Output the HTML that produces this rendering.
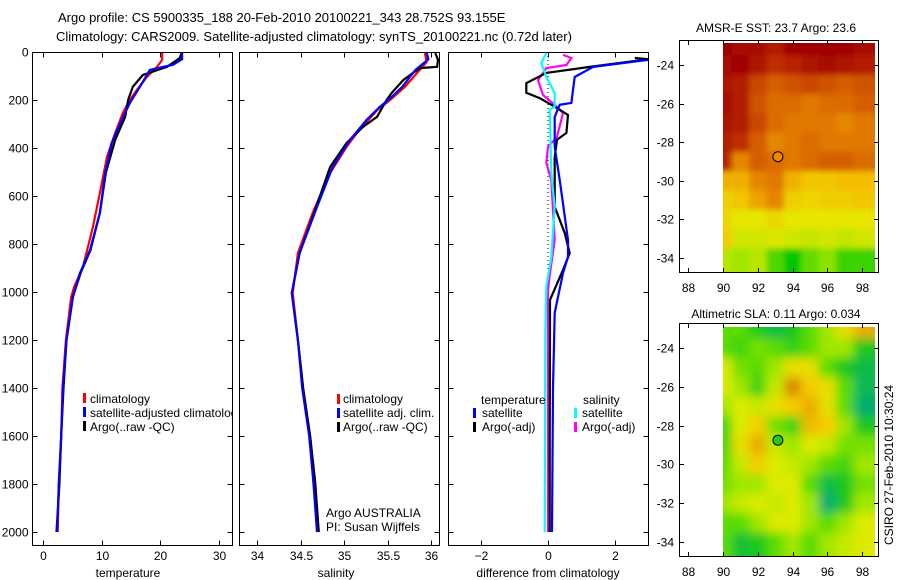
<!DOCTYPE html>
<html><head><meta charset="utf-8"><style>
html,body{margin:0;padding:0;background:#fff;}
svg{display:block;font-family:"Liberation Sans",sans-serif;}
text{font-size:12px;fill:#000;}
</style></head><body>
<svg id="chart" width="900" height="580" viewBox="0 0 900 580">
<defs>
<clipPath id="c1"><rect x="32" y="52" width="200" height="493"/></clipPath>
<clipPath id="c2"><rect x="239" y="52" width="200" height="493"/></clipPath>
<clipPath id="c3"><rect x="448" y="52" width="200" height="493"/></clipPath>
<clipPath id="cm1"><rect x="723" y="43" width="152" height="229"/></clipPath>
<clipPath id="cm2"><rect x="723" y="327" width="152" height="229"/></clipPath>
<filter id="b1" filterUnits="userSpaceOnUse" x="723" y="43" width="152" height="229"><feGaussianBlur stdDeviation="3" edgeMode="duplicate"/></filter>
<filter id="b2" filterUnits="userSpaceOnUse" x="723" y="327" width="152" height="229"><feGaussianBlur stdDeviation="5" edgeMode="duplicate"/></filter>
</defs>
<text x="58" y="22" style="font-size:13px">Argo profile: CS 5900335_188 20-Feb-2010 20100221_343 28.752S 93.155E</text>
<text x="56" y="41" style="font-size:13px">Climatology: CARS2009. Satellite-adjusted climatology: synTS_20100221.nc (0.72d later)</text>
<g id="g"></g>
</svg>
<script>
// ---------- data ----------
const depthTicks=[0,200,400,600,800,1000,1200,1400,1600,1800,2000];
const tempTicks=[0,10,20,30];
const salTicks=[34,34.5,35,35.5,36];
const salTickLabels=["34","34.5","35","35.5","36"];
const diffTicks=[-2,0,2];
const lonTicks=[88,90,92,94,96,98];
const latTicks=[-24,-26,-28,-30,-32,-34];

const tClimDepth=[4,33,62,104,158,200,254,337,437,587,729,896,979,1020,1200,1400,1600,1800,2000];
const tClimVal=[20.3,20.3,19.4,17.7,16,14.8,13.6,12.3,10.9,9.7,8.5,6.8,5.3,4.8,3.9,3.3,3.1,2.7,2.5];
const tSatDepth=[4,30,54,62,75,145,212,283,379,504,670,825,921,1020,1200,1400,1600,1800,2000];
const tSatVal=[23.7,23.7,22.1,20.4,18.2,16.5,14.8,13.4,11.7,10.6,9.7,8.0,6.3,5.1,4.0,3.4,3.1,2.7,2.4];
const tArgoDepth=[4,25,62,96,145,200,270,366,504,670,825,921,1020,1200,1400,1600,1800,2000];
const tArgoVal=[23.6,23.3,21.1,17,15.3,14.5,14,12.3,10.7,9.7,8.1,6.4,5.1,4.0,3.5,3.1,2.8,2.3];

const sClimDepth=[4,42,87,145,200,242,337,395,504,670,838,1004,1200,1400,1600,1800,2000];
const sClimVal=[35.93,35.95,35.84,35.7,35.53,35.38,35.15,35.03,34.84,34.64,34.47,34.41,34.47,34.53,34.61,34.67,34.70];
const sSatDepth=[4,30,75,145,187,229,283,366,479,646,838,1004,1200,1400,1600,1800,2000];
const sSatVal=[35.95,35.97,35.82,35.67,35.55,35.41,35.26,35.07,34.87,34.69,34.49,34.40,34.47,34.52,34.60,34.65,34.69];
const sArgoDepth=[4,33,62,67,117,170,200,270,312,379,479,646,838,1004,1200,1400,1600,1800,2000];
const sArgoVal=[36.05,36.08,36.07,35.87,35.68,35.55,35.49,35.38,35.22,35.03,34.84,34.68,34.49,34.40,34.47,34.53,34.61,34.67,34.71];

const dTSatDepth=[33,62,104,158,212,220,270,395,533,783,854,921,1087,1400,2000];
const dTSatVal=[3.0,1.35,0.8,0.75,0.7,0.35,0.2,0.2,0.35,0.6,0.6,0.45,0.2,0.15,0.12];
const dTArgoDepth=[25,30,62,87,130,170,192,228,262,337,366,437,645,754,838,908,1033,1170,1600,2000];
const dTArgoVal=[2.6,3.0,1.25,-0.05,-0.65,-0.65,-0.25,0.2,0.6,0.55,0.27,0.2,0.2,0.5,0.65,0.45,0.06,0.06,0.05,0.05];
const dSSatDepth=[4,46,104,170,228,241,504,645,854,979,1170,2000];
const dSSatVal=[-0.05,-0.2,-0.05,0.2,0.2,0.05,0.1,0.2,0.1,-0.05,-0.08,-0.1];
const dSArgoDepth=[12,25,54,67,117,179,220,254,354,395,462,533,783,921,991,2000];
const dSArgoVal=[0.45,0.7,0.55,-0.05,-0.3,-0.15,0.2,0.45,0.27,0,-0.05,0.1,0.2,0.06,0,0.0];

const mapLons=[90,91,92,93,94,95,96,97,98];
const mapLats=[-23,-24,-25,-26,-27,-28,-29,-30,-31,-32,-33,-34];
const sstGrid=[
[24.8,24.6,24.6,24.4,24.7,24.8,24.8,24.8,24.6],
[24.6,24.7,24.5,24.2,24.3,24.5,24.6,24.5,24.4],
[24.5,24.4,24.0,23.8,23.9,24.0,23.9,23.8,23.9],
[24.6,24.4,23.9,23.7,23.7,23.6,23.7,23.7,23.8],
[24.5,24.4,24.0,23.7,23.6,23.6,23.6,23.5,23.6],
[24.4,24.2,23.8,23.5,23.6,23.7,23.6,23.6,23.6],
[24.3,23.5,23.8,23.7,23.6,23.7,23.8,23.8,23.7],
[23.2,23.2,23.5,23.6,23.2,23.0,23.0,23.1,23.1],
[22.9,23.0,23.3,23.5,22.9,22.8,22.9,22.9,23.0],
[22.8,22.6,22.6,22.8,22.6,22.6,22.6,22.6,22.6],
[22.9,22.4,22.4,22.5,22.4,22.3,22.4,22.3,22.4],
[22.2,22.0,22.2,21.6,21.2,21.7,21.9,21.5,21.5]];
const slaGrid=[
[0.0,0.0,-0.05,-0.1,-0.05,0.0,0.05,0.12,0.2],
[0.0,-0.02,0.02,0.0,-0.03,0.0,0.05,0.05,-0.05],
[0.1,0.02,0.0,0.05,0.12,0.12,0.0,-0.05,-0.1],
[0.1,0.05,-0.02,0.08,0.25,0.15,0.12,0.0,-0.12],
[0.05,0.1,0.08,0.12,0.15,0.2,0.12,0.0,-0.15],
[-0.02,0.1,0.15,0.02,-0.02,0.18,0.15,0.05,-0.05],
[-0.02,0.12,0.2,0.08,0.05,0.1,0.08,0.02,0.02],
[0.0,0.08,0.15,0.1,0.08,0.05,0.0,-0.02,0.05],
[0.02,0.05,0.05,0.1,0.1,0.0,-0.1,-0.05,0.02],
[0.05,0.08,0.1,0.08,0.1,0.05,-0.15,-0.05,0.05],
[0.0,0.0,0.05,0.1,0.1,0.05,0.0,0.05,0.1],
[0.0,-0.08,-0.05,0.0,0.05,0.0,0.05,0.08,0.1]];
const argoLon=93.155, argoLat=-28.752;

// ---------- helpers ----------
const NS="http://www.w3.org/2000/svg";
const G=document.getElementById('g');
function mk(tag,attrs,parent){const e=document.createElementNS(NS,tag);for(const k in attrs)e.setAttribute(k,attrs[k]);(parent||G).appendChild(e);return e;}
const yD=d=>52+d*0.24;
const xT=v=>43+v*5.87;
const xS=v=>257+(v-34)*87;
const xDf=v=>548+v*33.4;
const mx=lon=>723+(lon-90)*17.4;
const my1=lat=>65+(-24-lat)*19.3;
const my2=lat=>348+(-24-lat)*19.4;

function frame(x,y,w,h,name){
  const r=mk('rect',{x:x,y:y,width:w,height:h,fill:'none',stroke:'#000','stroke-width':1});
  
  
}
function line(depths,vals,xf,color,clip,name){
  const pts=depths.map((d,i)=>xf(vals[i]).toFixed(1)+','+yD(d).toFixed(1)).join(' ');
  const p=mk('polyline',{points:pts,fill:'none',stroke:color,'stroke-width':2.2,'clip-path':'url(#'+clip+')'});
  
  
}
function depthTicksFor(x0,x1,labels){
  depthTicks.forEach(d=>{
    const y=yD(d)+0.5;
    mk('line',{x1:x0,y1:y,x2:x0+5,y2:y,stroke:'#000'});
    mk('line',{x1:x1-5,y1:y,x2:x1,y2:y,stroke:'#000'});
    if(labels){const t=mk('text',{x:x0-4,y:y+4,'text-anchor':'end'});t.textContent=d;
      
      }
  });
}
function xTicks(ticks,labels,xf,yTop,yBot,labY){
  ticks.forEach((v,i)=>{
    const x=Math.round(xf(v))+0.5;
    mk('line',{x1:x,y1:yBot,x2:x,y2:yBot-5,stroke:'#000'});
    mk('line',{x1:x,y1:yTop,x2:x,y2:yTop+5,stroke:'#000'});
    const t=mk('text',{x:x,y:labY,'text-anchor':'middle'});t.textContent=labels[i];
    
    
  });
}
function label(x,y,txt,name,anchor){
  const t=mk('text',{x:x,y:y,'text-anchor':anchor||'start'});t.textContent=txt;
  
  
  return t;
}
function legBar(x,y,color,name){
  const r=mk('rect',{x:x,y:y-9,width:3,height:10,fill:color});
  
  
}

// ---------- panel 1: temperature ----------
frame(32.5,52.5,200,493,'temperature-axes');
depthTicksFor(32.5,232.5,true);
xTicks(tempTicks,tempTicks.map(String),xT,52.5,545.5,560);
label(128,577,'temperature','x-axis-title-temperature','middle');
line(tClimDepth,tClimVal,xT,'#ff0000','c1','temp-climatology-line');
line(tArgoDepth,tArgoVal,xT,'#000000','c1','temp-argo-line');
line(tSatDepth,tSatVal,xT,'#0000ff','c1','temp-satellite-line');
const lg1=mk('g',{'clip-path':'url(#c1)'});


[['climatology','#ff0000',403],['satellite-adjusted climatology','#0000ff',417],['Argo(..raw -QC)','#000',431]].forEach(a=>{
  const r=mk('rect',{x:83,y:a[2]-10,width:3,height:10,fill:a[1]},lg1);
  
  
  const t=mk('text',{x:90,y:a[2]},lg1);t.textContent=a[0];
  
  
});

// ---------- panel 2: salinity ----------
frame(239.5,52.5,200,493,'salinity-axes');
depthTicksFor(239.5,439.5,false);
xTicks(salTicks,salTickLabels,xS,52.5,545.5,560);
label(336,577,'salinity','x-axis-title-salinity','middle');
line(sClimDepth,sClimVal,xS,'#ff0000','c2','sal-climatology-line');
line(sArgoDepth,sArgoVal,xS,'#000000','c2','sal-argo-line');
line(sSatDepth,sSatVal,xS,'#0000ff','c2','sal-satellite-line');
[['climatology','#ff0000',403],['satellite adj. clim.','#0000ff',417],['Argo(..raw -QC)','#000',431]].forEach(a=>{
  legBar(337,a[2],a[1],'legend-swatch');
  label(343,a[2],a[0],'legend-entry');
});
label(326,517,'Argo AUSTRALIA','credit-argo-australia');
label(326,531,'PI: Susan Wijffels','credit-pi');

// ---------- panel 3: differences ----------
frame(448.5,52.5,200,493,'difference-axes');
depthTicksFor(448.5,648.5,false);
xTicks(diffTicks,diffTicks.map(v=>v<0?'\u2212'+(-v):String(v)),xDf,52.5,545.5,560);
label(548,577,'difference from climatology','x-axis-title-difference','middle');
const zl=mk('line',{x1:xDf(0),y1:yD(0),x2:xDf(0),y2:yD(2000),stroke:'#000','stroke-dasharray':'1,3'});


line(dSArgoDepth,dSArgoVal,xDf,'#ff00ff','c3','diff-sal-argo-line');
line(dTArgoDepth,dTArgoVal,xDf,'#000000','c3','diff-temp-argo-line');
line(dTSatDepth,dTSatVal,xDf,'#0000ff','c3','diff-temp-satellite-line');
line(dSSatDepth,dSSatVal,xDf,'#00ffff','c3','diff-sal-satellite-line');
label(481,404,'temperature','legend-title-temperature');
legBar(473,417,'#0000ff','legend-swatch');label(482,417,'satellite','legend-entry');
legBar(473,431,'#000','legend-swatch');label(482,431,'Argo(-adj)','legend-entry');
label(583,404,'salinity','legend-title-salinity');
legBar(574,417,'#00ffff','legend-swatch');label(582,417,'satellite','legend-entry');
legBar(574,431,'#ff00ff','legend-swatch');label(582,431,'Argo(-adj)','legend-entry');

// ---------- maps ----------
function lerpCmap(stops,v){
  if(v<=stops[0][0])return stops[0][1];
  for(let i=1;i<stops.length;i++){
    if(v<=stops[i][0]){const a=stops[i-1],b=stops[i],f=(v-a[0])/(b[0]-a[0]);
      return a[1].map((x,k)=>Math.round(x+(b[1][k]-x)*f));}
  }
  return stops[stops.length-1][1];
}
const sstStops=[[21.2,[0,200,0]],[22.0,[160,230,0]],[22.6,[230,230,0]],[23.1,[245,190,0]],[23.6,[225,120,0]],[24.2,[190,45,0]],[24.7,[160,0,0]]];
const slaStops=[[-0.15,[0,175,110]],[-0.05,[30,200,30]],[0.0,[90,220,0]],[0.05,[160,230,0]],[0.1,[220,235,0]],[0.15,[245,205,0]],[0.25,[220,140,0]]];
function drawMap(grid,stops,myf,clip,filt,top,bottom,name,markerColor){
  const outer=mk('g',{'clip-path':'url(#'+clip+')'});
  
  
  const gm=mk('g',{filter:'url(#'+filt+')'},outer);
  grid.forEach((row,ri)=>row.forEach((v,ci)=>{
    const lat=mapLats[ri],lon=mapLons[ci];
    const x0=ci===0?715:mx(lon-0.5), x1=ci===row.length-1?885:mx(lon+0.5);
    const y0=ri===0?top-10:myf(lat+0.5), y1=ri===grid.length-1?bottom+10:myf(lat-0.5);
    const c=lerpCmap(stops,v);
    const r=mk('rect',{x:x0,y:y0,width:x1-x0+0.5,height:y1-y0+0.5,fill:'rgb('+c.join(',')+')'},gm);
    
    
  }));
  const m=mk('circle',{cx:mx(argoLon),cy:myf(argoLat),r:5,fill:markerColor,stroke:'#000','stroke-width':1});
  
  
}
function mapAxes(top,bottom,myf,name){
  frame(679.5,top+0.5,199,bottom-top,name);
  latTicks.forEach(l=>{const y=Math.round(myf(l))+0.5;
    mk('line',{x1:679.5,y1:y,x2:684,y2:y,stroke:'#000'});mk('line',{x1:874,y1:y,x2:878.5,y2:y,stroke:'#000'});
    label(674,y+4,'-'+(-l),'lat-tick-label','end');});
  lonTicks.forEach(l=>{const x=Math.round(mx(l))+0.5;
    mk('line',{x1:x,y1:top+0.5,x2:x,y2:top+5,stroke:'#000'});mk('line',{x1:x,y1:bottom+0.5,x2:x,y2:bottom-4,stroke:'#000'});
    label(x,bottom+20,String(l),'lon-tick-label','middle');});
}
drawMap(sstGrid,sstStops,my1,'cm1','b1',43,272,'sst-map','rgb(235,140,0)');
mapAxes(40,272,my1,'sst-map-axes');
label(776,32,'AMSR-E SST: 23.7 Argo: 23.6','sst-map-title','middle');
drawMap(slaGrid,slaStops,my2,'cm2','b2',327,556,'sla-map','rgb(40,200,20)');
mapAxes(323,556,my2,'sla-map-axes');
label(776,318,'Altimetric SLA: 0.11 Argo: 0.034','sla-map-title','middle');
const ts=label(0,0,'CSIRO 27-Feb-2010 10:30:24','timestamp','middle');
ts.setAttribute('transform','translate(893,465) rotate(-90)');
</script>
</body></html>
